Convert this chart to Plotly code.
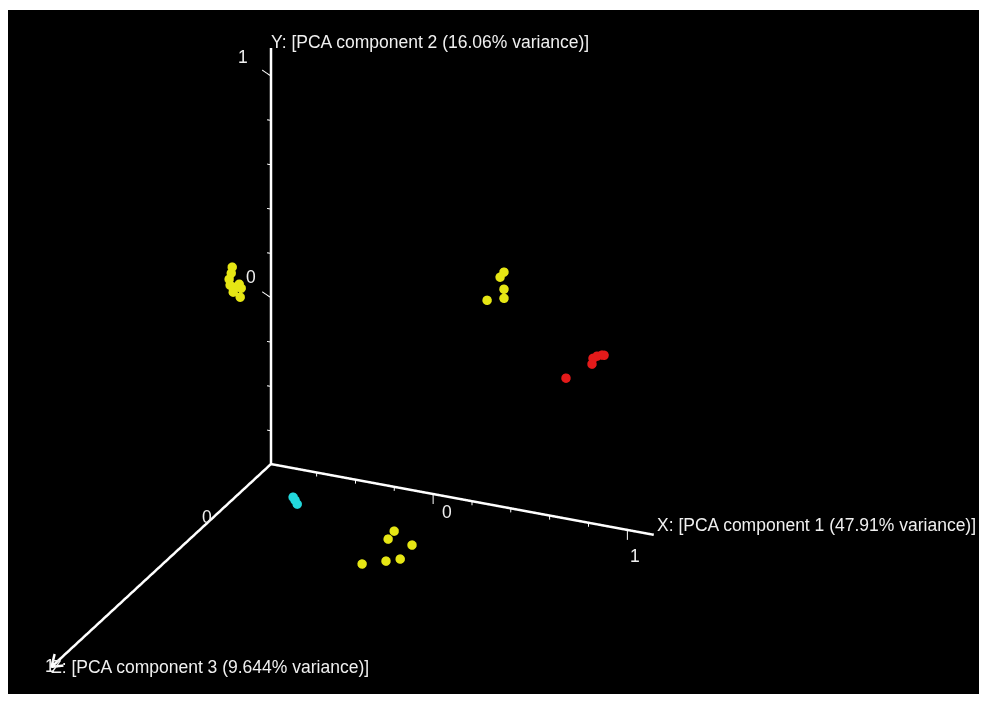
import plotly.graph_objects as go

# PCA scores (PC1, PC2, PC3) for each sample, grouped by colour
yellow_pc1 = [-0.661, -0.666, -0.677, -0.672, -0.646, -0.625, -0.615, -0.656, -0.620,
              0.413, 0.393, 0.413, 0.413, 0.326,
              0.742, 0.711, 0.834, 0.577, 0.700, 0.773]
yellow_pc2 = [0.470, 0.442, 0.413, 0.387, 0.382, 0.399, 0.382, 0.358, 0.341,
              0.358, 0.332, 0.281, 0.240, 0.217,
              -0.033, -0.074, -0.081, -0.208, -0.175, -0.154]
yellow_pc3 = [0.10, 0.10, 0.10, 0.10, 0.10, 0.10, 0.10, 0.10, 0.10,
              -0.30, -0.30, -0.30, -0.30, -0.30,
              0.80, 0.80, 0.80, 0.80, 0.80, 0.80]

red_pc1 = [0.773, 0.907, 0.912, 0.933, 0.958, 0.969]
red_pc2 = [-0.029, 0.056, 0.083, 0.096, 0.105, 0.106]
red_pc3 = [-0.25, -0.25, -0.25, -0.25, -0.25, -0.25]

cyan_pc1 = [0.059, 0.069, 0.080]
cyan_pc2 = [-0.122, -0.134, -0.150]
cyan_pc3 = [0.60, 0.60, 0.60]

# Axis extents and tick values
pc1_range = [-0.835, 1.136]
pc2_range = [-0.75, 1.127]
pc3_range = [-0.36, 1.03]
pc1_ticks = [-0.6, -0.4, -0.2, 0.0, 0.2, 0.4, 0.6, 0.8, 1.0]
pc2_ticks = [-0.6, -0.4, -0.2, 0.0, 0.2, 0.4, 0.6, 0.8, 1.0]
labelled_ticks = [0, 1]
PAD = 0.08  # room around the axes so nothing on the box edge is clipped

x_title = "X: [PCA component 1 (47.91% variance)]"
y_title = "Y: [PCA component 2 (16.06% variance)]"
z_title = "Z: [PCA component 3 (9.644% variance)]"

FONT = dict(family="Liberation Sans, Arial, sans-serif", size=17.5, color="#f0f0f0")
AXIS_COLOR = "#ffffff"

x0, y0, z0 = pc1_range[0], pc2_range[0], pc3_range[0]
z1 = pc3_range[1]

fig = go.Figure()

# Axis lines from the shared corner of the box, plus a small arrowhead on Z
fig.add_trace(go.Scatter3d(
    x=[x0, pc1_range[1], None, x0, x0, None, x0, x0, None,
       x0, x0, x0 + 0.045],
    y=[y0, y0, None, y0, pc2_range[1], None, y0, y0, None,
       y0 + 0.045, y0, y0],
    z=[z0, z0, None, z0, z0, None, z0, z1, None,
       z1 - 0.02, z1, z1 - 0.02],
    mode="lines", line=dict(color=AXIS_COLOR, width=5),
    hoverinfo="skip", showlegend=False))

# Tick marks: minor ticks short, labelled ticks longer
tx, ty, tz = [], [], []
for v in pc1_ticks:
    ln = 0.045 if v in labelled_ticks else 0.018
    tx += [v, v, None]
    ty += [y0, y0 - ln, None]
    tz += [z0, z0, None]
for v in pc2_ticks:
    ln = 0.045 if v in labelled_ticks else 0.02
    tx += [x0, x0 - ln, None]
    ty += [v, v + (0.02 if v in labelled_ticks else 0.0), None]
    tz += [z0, z0, None]
fig.add_trace(go.Scatter3d(
    x=tx, y=ty, z=tz, mode="lines",
    line=dict(color=AXIS_COLOR, width=2),
    hoverinfo="skip", showlegend=False))

# Sample points
for xs, ys, zs, col in [
    (yellow_pc1, yellow_pc2, yellow_pc3, "#e6e614"),
    (red_pc1, red_pc2, red_pc3, "#e41a1a"),
    (cyan_pc1, cyan_pc2, cyan_pc3, "#22d8dc"),
]:
    fig.add_trace(go.Scatter3d(
        x=xs, y=ys, z=zs, mode="markers",
        marker=dict(size=5.5, color=col, opacity=1, line=dict(width=0)),
        hoverinfo="skip", showlegend=False))

annotations = [
    dict(x=x0, y=pc2_range[1], z=z0, text=y_title, xanchor="left", yanchor="middle",
         xshift=-2, yshift=6),
    dict(x=pc1_range[1], y=y0, z=z0, text=x_title, xanchor="left", yanchor="middle",
         xshift=1, yshift=10),
    dict(x=x0, y=y0, z=z1, text=z_title, xanchor="left", yanchor="middle",
         xshift=-2, yshift=0),
    dict(x=x0, y=1, z=z0, text="1", xanchor="center", yanchor="middle", xshift=-28, yshift=19),
    dict(x=x0, y=0, z=z0, text="0", xanchor="center", yanchor="middle", xshift=-20, yshift=21),
    dict(x=0, y=y0, z=z0, text="0", xanchor="center", yanchor="middle", xshift=14, yshift=-18),
    dict(x=1, y=y0, z=z0, text="1", xanchor="center", yanchor="middle", xshift=8, yshift=-26),
    dict(x=x0, y=y0, z=0, text="0", xanchor="center", yanchor="middle", xshift=-7, yshift=0),
    dict(x=x0, y=y0, z=1, text="1", xanchor="center", yanchor="middle", xshift=-6, yshift=-4),
]
for a in annotations:
    a.update(showarrow=False, font=FONT)

hidden = dict(showbackground=False, showgrid=False, zeroline=False, showline=False,
              showticklabels=False, ticks="", title=dict(text=""), showspikes=False,
              autorange=False)


def padded(r):
    return [r[0] - PAD, r[1] + PAD]


fig.update_layout(
    width=984, height=702, autosize=False,
    margin=dict(l=8, r=5, t=10, b=8),
    paper_bgcolor="#ffffff",
    showlegend=False,
    scene=dict(
        bgcolor="#000000",
        xaxis=dict(hidden, range=padded(pc1_range)),
        yaxis=dict(hidden, range=padded(pc2_range)),
        zaxis=dict(hidden, range=padded(pc3_range)),
        aspectmode="manual",
        aspectratio=dict(x=1.3256, y=1.4499, z=1.7530),
        camera=dict(
            up=dict(x=0, y=1, z=0),
            center=dict(x=0.3559, y=0.1086, z=-0.2132),
            eye=dict(x=0.9266, y=0.7429, z=1.0628),
            projection=dict(type="orthographic"),
        ),
        annotations=annotations,
        dragmode=False,
    ),
)

fig.write_html("out.html", config={"displayModeBar": False})
